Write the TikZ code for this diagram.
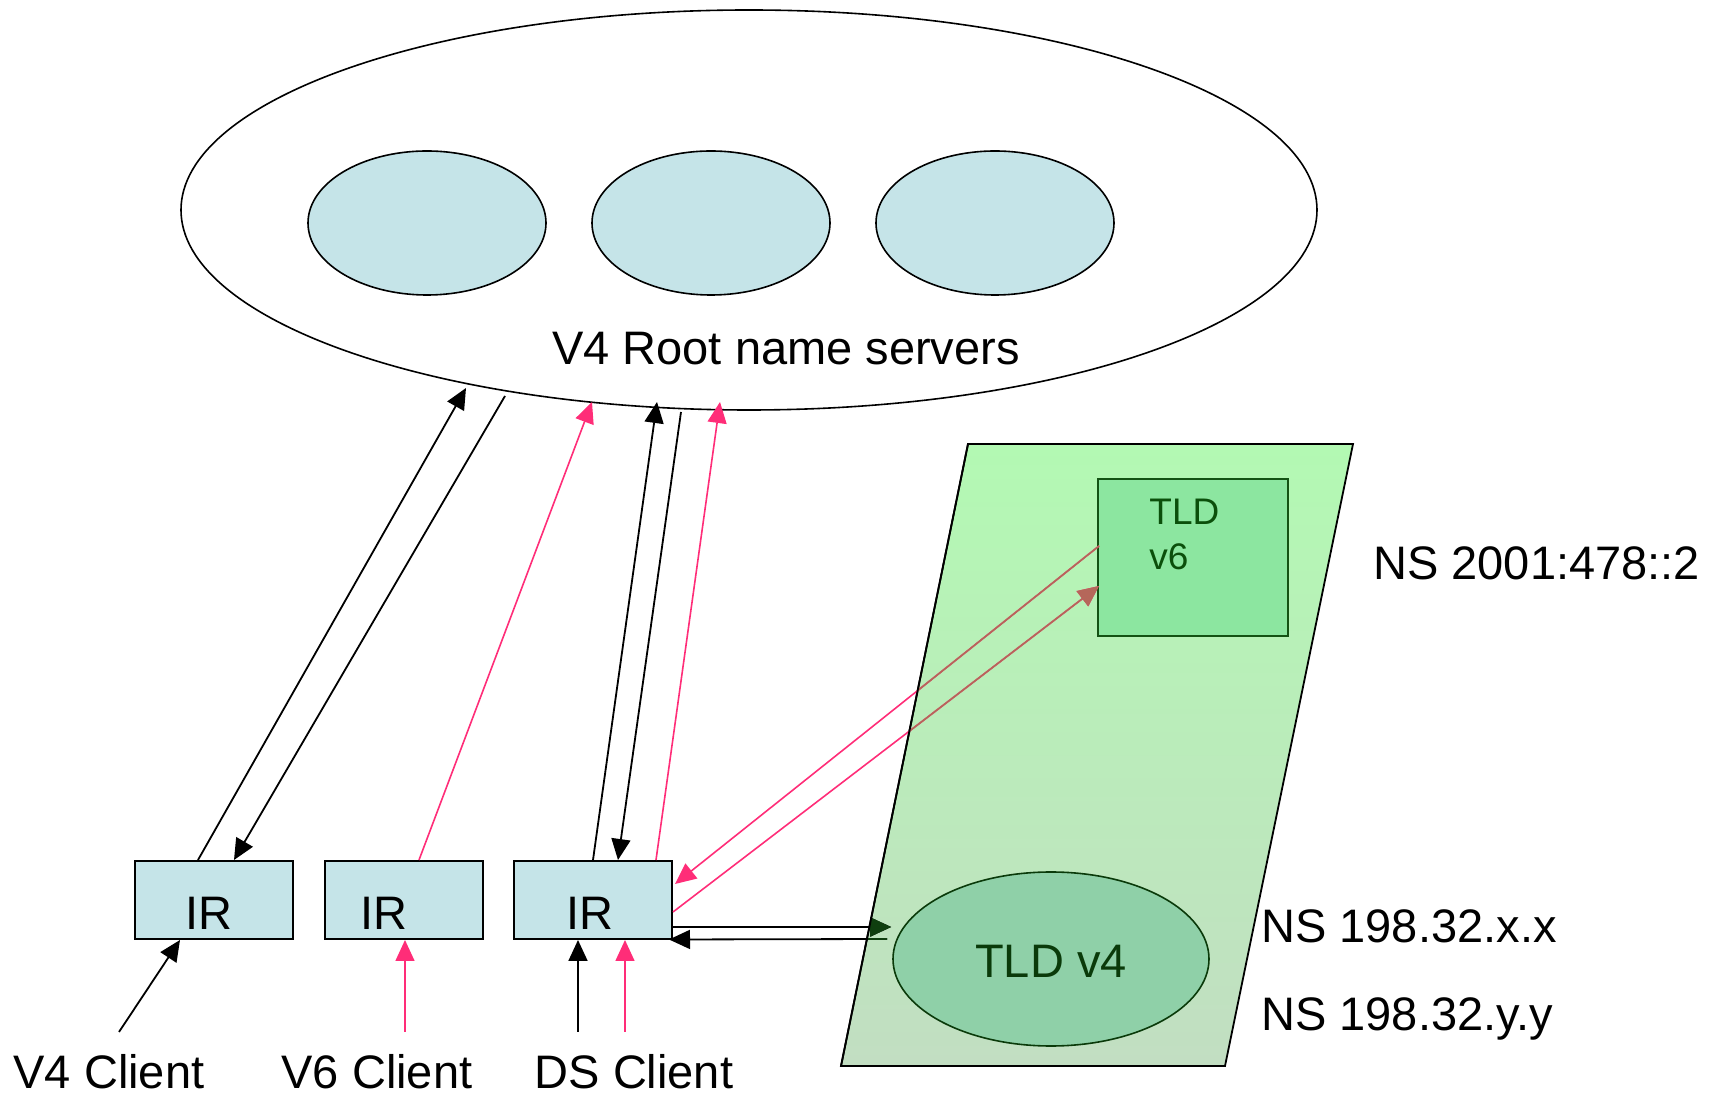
\documentclass[tikz,border=0pt]{standalone}
\usepackage{fontspec}
\setmainfont{Liberation Sans}
\usetikzlibrary{shapes.geometric,arrows.meta,calc}
\definecolor{pinkln}{HTML}{FF2D78}
\definecolor{brownln}{HTML}{B5675A}
\definecolor{dkgreen}{HTML}{0F3F0F}
\definecolor{irfill}{HTML}{C5E4E8}
\definecolor{paratop}{HTML}{B3F9B3}
\definecolor{parabot}{HTML}{C2DEC2}
\definecolor{tldsix}{HTML}{8CE6A0}
\definecolor{tldsixdraw}{HTML}{145214}
\definecolor{tldsixtext}{HTML}{0B4F0B}
\definecolor{tldfour}{HTML}{8FD0A8}
\definecolor{tldtext}{HTML}{0A3A0A}
\begin{document}
\begin{tikzpicture}[x=0.5pt,y=-0.5pt,
  bigfont/.style={font=\fontsize{23.5pt}{28pt}\selectfont},
  smallfont/.style={font=\fontsize{18.5pt}{22pt}\selectfont},
  tiptri/.style={-{Triangle[length=10.5pt,width=9.5pt]}},
  blk/.style={tiptri, line width=0.9pt, draw=black},
  pnk/.style={tiptri, line width=0.8pt, draw=pinkln},
  irbox/.style={draw, line width=1pt, fill=irfill, minimum width=79pt, minimum height=39pt, inner sep=0pt},
  srv/.style={ellipse, draw, line width=0.8pt, fill=irfill, minimum width=119pt, minimum height=72pt, inner sep=0pt},
  lbl/.style={bigfont, inner sep=0pt, anchor=base}
]
\path[use as bounding box] (0,0) rectangle (1720,1095);

% root name servers
\node[ellipse, draw, line width=0.8pt, fill=white, minimum width=568pt, minimum height=200pt, inner sep=0pt] (root) at (749,210) {};
\node[srv] (s1) at (427,223) {};
\node[srv] (s2) at (711,223) {};
\node[srv] (s3) at (995,223) {};
\node[lbl] (roottxt) at (786,365) {V4 Root name servers};

% TLD region
\coordinate (p1) at (968,444);
\coordinate (p2) at (1353,444);
\coordinate (p3) at (1225,1066);
\coordinate (p4) at (841,1066);
\shadedraw[line width=0.9pt, top color=paratop, bottom color=parabot] (p1) -- (p2) -- (p3) -- (p4) -- cycle;

\node[draw=tldsixdraw, line width=1pt, fill=tldsix, minimum width=95pt, minimum height=78.5pt, inner sep=0pt] (tld6) at (1193,557.5) {};
\node[smallfont, text=tldsixtext, anchor=base west, inner sep=0pt] (tld6a) at (1149,525) {TLD};
\node[smallfont, text=tldsixtext, anchor=base west, inner sep=0pt] (tld6b) at (1149,570) {v6};

\node[ellipse, draw=tldtext, line width=0.8pt, fill=tldfour, minimum width=158pt, minimum height=87pt, inner sep=0pt] (tld4) at (1051,959) {};
\node[lbl, text=tldtext] (tld4txt) at (1051,978) {TLD v4};

% NS labels
\node[lbl, anchor=base west] (ns6) at (1373,580) {NS 2001:478::2};
\node[lbl, anchor=base west] (nsx) at (1261,943) {NS 198.32.x.x};
\node[lbl, anchor=base west] (nsy) at (1261,1030) {NS 198.32.y.y};

% IR boxes
\node[irbox] (ir1) at (214,900) {};
\node[irbox] (ir2) at (404,900) {};
\node[irbox] (ir3) at (593,900) {};
\node[lbl] (ir1t) at (209,930) {IR};
\node[lbl] (ir2t) at (384,930) {IR};
\node[lbl] (ir3t) at (590,930) {IR};

% clients
\node[lbl] (c4) at (109,1088) {V4 Client};
\node[lbl] (c6) at (377,1088) {V6 Client};
\node[lbl] (cds) at (634,1088) {DS Client};
\coordinate (c4s) at (119,1032);
\coordinate (c6s) at (405,1032);
\coordinate (cdsa) at (578,1032);
\coordinate (cdsb) at (625,1032);
\draw[blk] (c4s) -- ($(ir1.south)+(-34,0)$);
\draw[pnk] (c6s) -- ($(ir2.south)+(1,0)$);
\draw[blk] (cdsa) -- ($(ir3.south)+(-15,0)$);
\draw[pnk] (cdsb) -- ($(ir3.south)+(32,0)$);

% root connectors
\coordinate (r1) at (466,388);
\coordinate (r2) at (505,396);
\coordinate (r3) at (592,402);
\coordinate (r4) at (657,402);
\coordinate (r5) at (681,412);
\coordinate (r6) at (720,402);
\draw[blk] ($(ir1.north)+(-16,0)$) -- (r1);
\draw[blk] (r2) -- ($(ir1.north)+(20,0)$);
\draw[pnk] ($(ir2.north)+(15,0)$) -- (r3);
\draw[blk] ($(ir3.north)+(0,0)$) -- (r4);
\draw[blk] (r5) -- ($(ir3.north)+(25,0)$);
\draw[pnk] ($(ir3.north)+(63,0)$) -- (r6);

% TLD connectors
\draw[pnk] ($(tld6.west)+(2,-11.5)$) -- ($(ir3.east)+(2,-16)$);
\draw[pnk] ($(ir3.east)+(0,12)$) -- ($(tld6.west)+(2,28.5)$);
\draw[blk] ($(ir3.east)+(0,27)$) -- ($(tld4.west)+(-1,-32)$);
\draw[blk] ($(tld4.west)+(-5,-20)$) -- ($(ir3.east)+(-4,39.5)$);

% tinted parts inside the TLD region
\begin{scope}
\clip (p1) -- (p2) -- (p3) -- (p4) -- cycle;
\draw[pnk, draw=brownln, fill=brownln] ($(tld6.west)+(2,-11.5)$) -- ($(ir3.east)+(2,-16)$);
\draw[pnk, draw=brownln, fill=brownln] ($(ir3.east)+(0,12)$) -- ($(tld6.west)+(2,28.5)$);
\draw[blk, draw=dkgreen, fill=dkgreen] ($(ir3.east)+(0,27)$) -- ($(tld4.west)+(-1,-32)$);
\draw[blk, draw=dkgreen, fill=dkgreen] ($(tld4.west)+(-5,-20)$) -- ($(ir3.east)+(-4,39.5)$);
\end{scope}
\draw[line width=0.9pt] (p1) -- (p4);
\end{tikzpicture}
\end{document}
